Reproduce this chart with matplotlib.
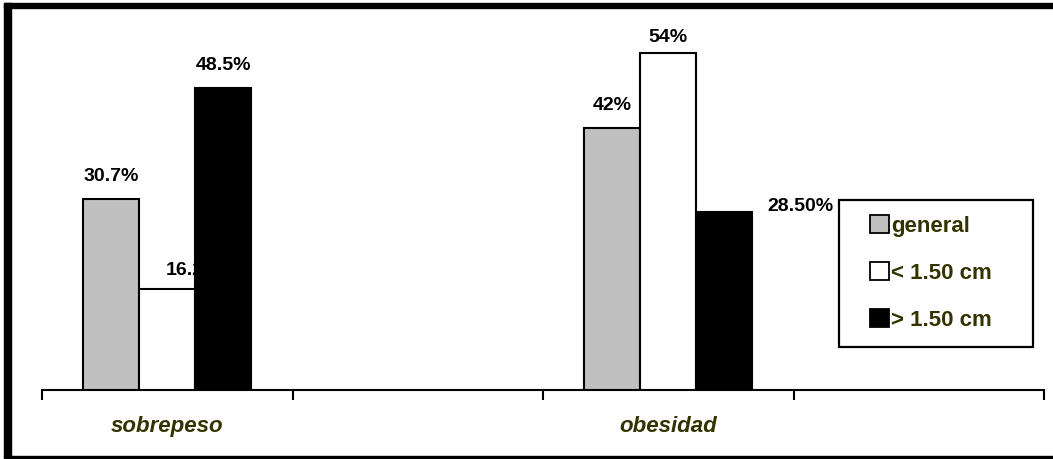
import numpy as np
import matplotlib.pyplot as plt
from matplotlib.patches import Rectangle, Patch

plt.rcParams['font.family'] = ['Liberation Sans', 'DejaVu Sans']

categories = ['sobrepeso', '', 'obesidad', '']
series = ['general', '< 1.50 cm', '> 1.50 cm']
general = [30.7, np.nan, 42.0, np.nan]
small = [16.2, np.nan, 54.0, np.nan]
large = [48.5, np.nan, 28.5, np.nan]
value_labels = [['30.7%', '', '42%', ''],
                ['16.2%', '', '54%', ''],
                ['48.5%', '', '28.50%', '']]

colors = ['#c0c0c0', 'white', 'black']
olive = '#333300'
# label offsets in points (dx, dy) per series/category
offsets = [[(0, 10), None, (0, 10), None],
           [(19, 7), None, (0, 5), None],
           [(0, 10), None, (55, -2), None]]

W, H = 1053, 459
fig = plt.figure(figsize=(W / 100, H / 100), dpi=100)
ax = fig.add_axes([42 / W, 69 / H, 1002 / W, 374 / H])

x = np.arange(len(categories))
width = 0.224
for i, (vals, col) in enumerate(zip([general, small, large], colors)):
    bars = ax.bar(x + (i - 1) * width, vals, width, color=col,
                  edgecolor='black', linewidth=1.5, zorder=3)
    for j, b in enumerate(bars):
        if not value_labels[i][j]:
            continue
        dx, dy = offsets[i][j]
        ax.annotate(value_labels[i][j], (b.get_x() + b.get_width() / 2, b.get_height()),
                    xytext=(dx, dy), textcoords='offset points',
                    ha='center', va='bottom', fontsize=14, fontweight='bold',
                    zorder=2)

ax.set_xlim(-0.5, 3.5)
ax.set_ylim(0, 60)
ax.set_xticks(np.arange(-0.5, 4, 1))
ax.set_xticklabels([])
ax.set_xticks(x, minor=True)
ax.set_xticklabels(categories, minor=True, fontsize=16, fontweight='bold',
                   fontstyle='italic', color=olive)
ax.tick_params(axis='x', which='major', length=7, width=1.5, direction='out')
ax.tick_params(axis='x', which='minor', length=0, pad=19)
ax.set_yticks([])
for s in ['left', 'right', 'top']:
    ax.spines[s].set_visible(False)
ax.spines['bottom'].set_linewidth(1.5)

# legend box
fig.add_artist(Rectangle((839 / W, 1 - 347 / H), 194 / W, 147 / H,
                         transform=fig.transFigure, facecolor='white',
                         edgecolor='black', linewidth=1.6, zorder=5))
handles = [Patch(facecolor=c, edgecolor='black', linewidth=1.3) for c in colors]
leg = fig.legend(handles, series, loc='upper left',
                 bbox_to_anchor=(859 / W, 1 - 204 / H), frameon=False,
                 handlelength=0.85, handleheight=0.85,
                 handletextpad=0.1, labelspacing=1.15, borderpad=0,
                 prop={'weight': 'bold', 'size': 16})
leg.set_zorder(6)
for t in leg.get_texts():
    t.set_color(olive)

# outer border
fig.add_artist(Rectangle((4 / W, 1 - 457 / H), 7 / W, 454 / H,
                         transform=fig.transFigure, color='black', zorder=7))
fig.add_artist(Rectangle((4 / W, 1 - 8 / H), 1 - 4 / W, 5 / H,
                         transform=fig.transFigure, color='black', zorder=7))
fig.add_artist(Rectangle((4 / W, 1 - 458 / H), 1 - 4 / W, 2 / H,
                         transform=fig.transFigure, color='black', zorder=7))

fig.savefig('out.png', dpi=100)
